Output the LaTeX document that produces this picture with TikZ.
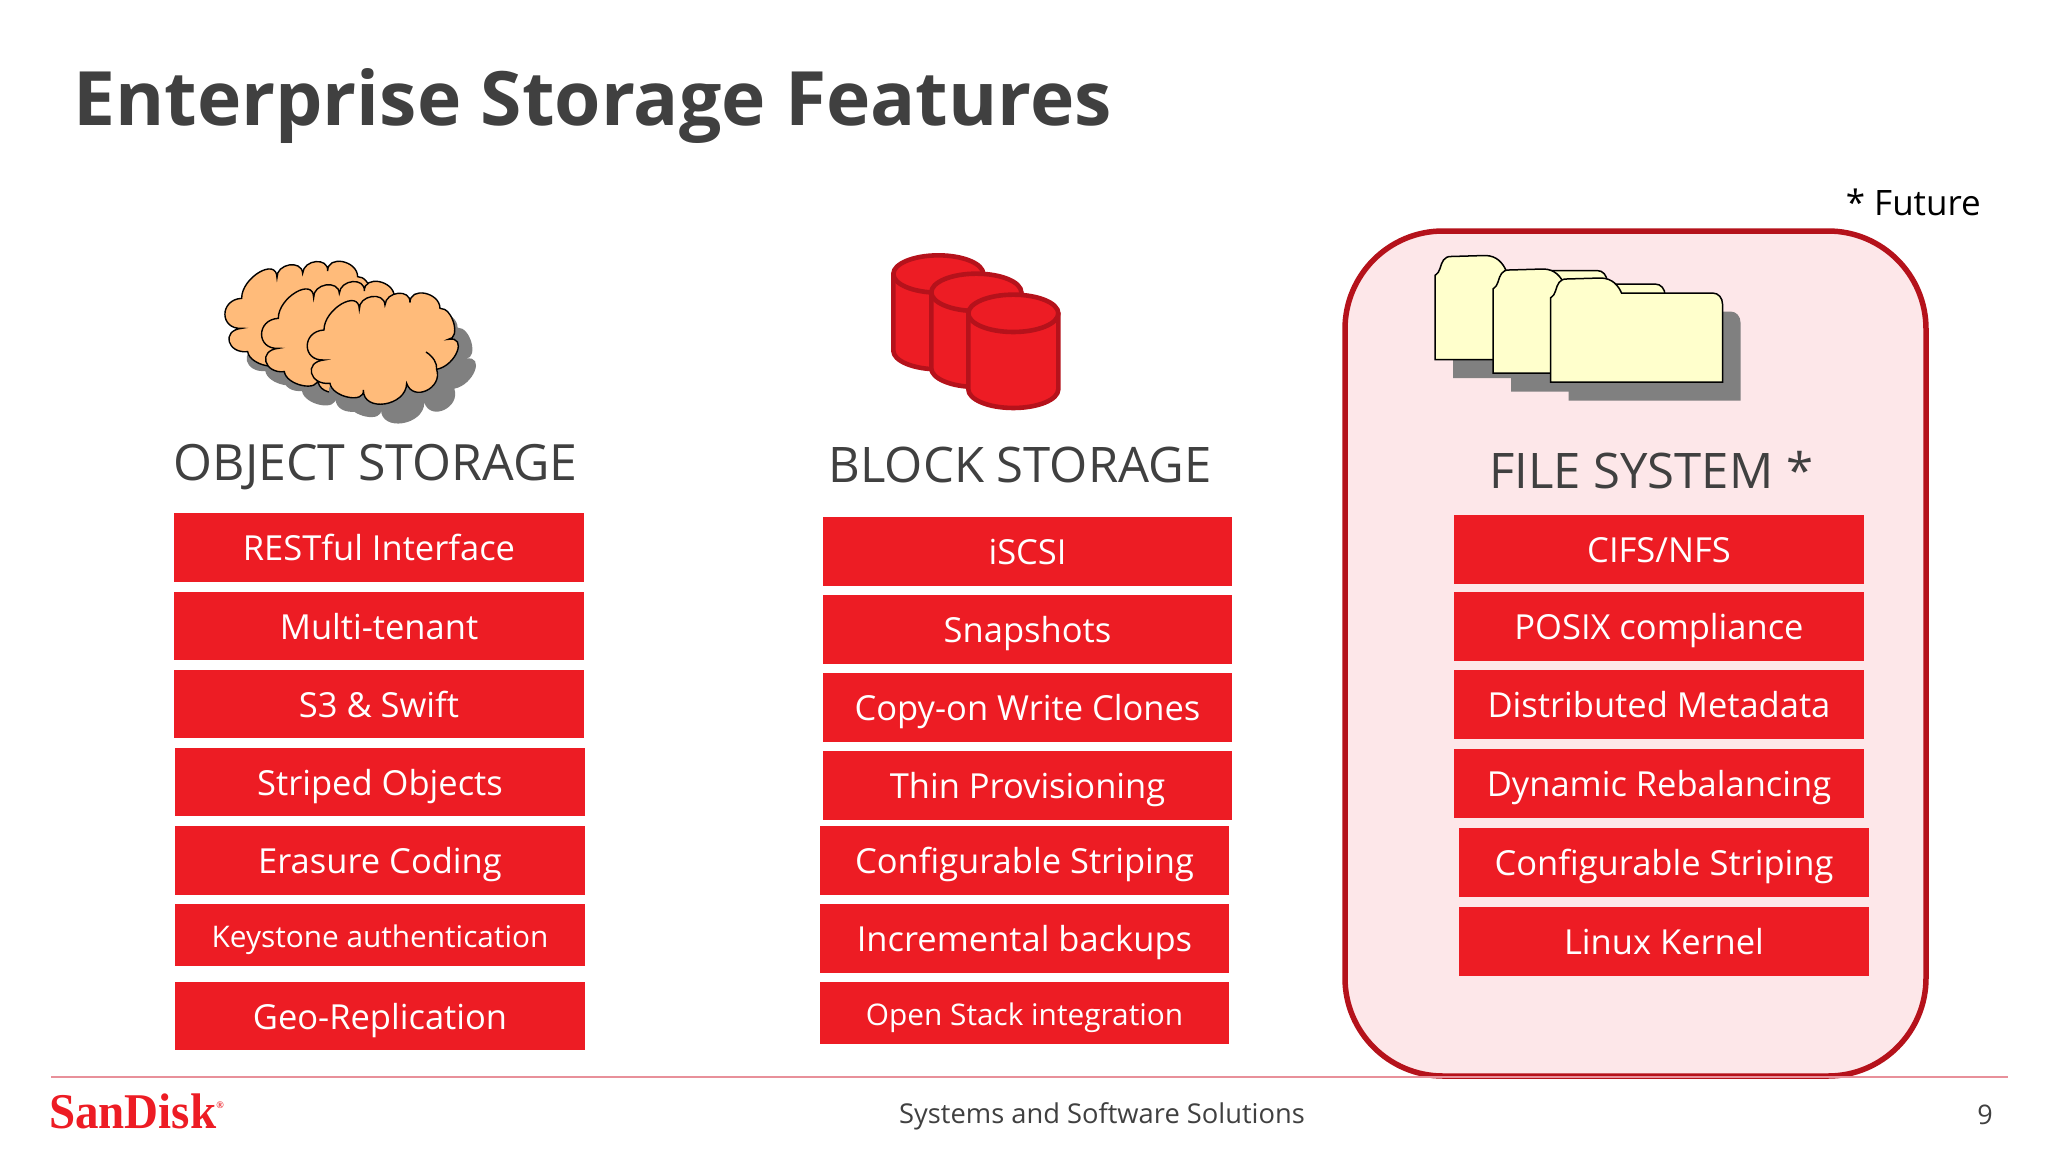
\documentclass[tikz,border=0pt]{standalone}
\usepackage{fontspec}
\setmainfont{Open Sans}
\newfontfamily\logofont{Liberation Serif}
\usetikzlibrary{calc}
\definecolor{sdred}{HTML}{ED1C24}
\definecolor{sddark}{HTML}{B5121B}
\definecolor{sdtitle}{HTML}{404040}
\definecolor{sdpink}{HTML}{FDE7E9}
\definecolor{sdorange}{HTML}{FFBB7A}
\definecolor{sdyellow}{HTML}{FFFFCC}
\definecolor{sdshadow}{HTML}{808080}
\definecolor{sdrule}{HTML}{E8909A}
\newcommand\puff[3]{.. controls ($(#1)+1.333*(#2)-0.667*(#1)-0.667*(#3)$) and ($(#3)+1.333*(#2)-0.667*(#1)-0.667*(#3)$) .. (#3)}
\newcommand\cloudshape{(372,270) \puff{372,270}{425,192}{478,208} \puff{478,208}{515,170}{555,195} \puff{555,195}{595,160}{630,188} \puff{630,188}{675,160}{720,205} \puff{720,205}{762,250}{745,298} \puff{745,298}{772,335}{710,388} \puff{710,388}{680,452}{620,430} \puff{620,430}{555,492}{490,450} \puff{490,450}{445,472}{390,430} \puff{390,430}{335,400}{372,360} \puff{372,360}{322,318}{372,270} -- cycle}
\newcommand\onecloud[2]{%
\fill[sdshadow,shift={(#1+53,#2+58)}] \cloudshape;
\draw[black,line width=1.4pt,fill=sdorange,shift={(#1,#2)}] \cloudshape;
\draw[black,line width=1.4pt,shift={(#1,#2)}] (678,336) .. controls (700,350) and (712,370) .. (710,388);
}
\newcommand\onecyl[3]{%
\draw[line width=4.6pt,draw=sddark,fill=sdred,line join=round] (#1-135,#2) -- (#1-135,#3) arc[x radius=135,y radius=56,start angle=180,end angle=0] -- (#1+135,#2) arc[x radius=135,y radius=56,start angle=0,end angle=-180] -- cycle;
\draw[line width=4.6pt,draw=sddark] (#1-135,#2) arc[x radius=135,y radius=56,start angle=180,end angle=0];
}
\newcommand\folderpath{(0,0) -- (0,-84) .. controls (3,-86) and (4,-88) .. (5,-91) .. controls (7,-98) and (9,-103) .. (16,-103) -- (50,-104) .. controls (62,-104) and (68,-96) .. (71,-89) -- (162,-89) .. controls (168,-89) and (172,-84) .. (172,-78) -- (172,0) -- cycle}
\newcommand\onefolder[2]{%
\fill[sdshadow,shift={(#1+18,#2+18.5)}] \folderpath;
\draw[black,line width=1.5pt,fill=sdyellow,shift={(#1,#2)}] \folderpath;
}
\tikzset{
 rowbox/.style={fill=sdred,text=white,inner sep=0pt,align=center,text height=31pt,text depth=5pt,font=\fontsize{34.5}{40}\selectfont},
 rowsmall/.style={rowbox,text height=28pt,text depth=4pt,font=\fontsize{29.8}{36}\selectfont},
 heading/.style={text=sdtitle,inner sep=0pt,font=\fontsize{49}{56}\selectfont}
}
\begin{document}
\begin{tikzpicture}[x=1pt,y=-1pt]
\useasboundingbox (0,0) rectangle (2048,1152);
\fill[white] (0,0) rectangle (2048,1152);
\node[anchor=west,inner sep=0pt,text=sdtitle] (title) at (73,106) {\fontsize{75}{90}\selectfont\bfseries Enterprise Storage Features};
\node[anchor=east,inner sep=0pt,text=black] (future) at (1981,202) {\fontsize{35}{40}\selectfont * Future};
% file system panel
\draw[line width=5.5pt,draw=sddark,fill=sdpink,rounded corners=98pt] (1345,231) rectangle (1926,1076);
% clouds
\begin{scope}[shift={(200,240)},x=0.3333pt,y=-0.3333pt]
\onecloud{-247}{-95}
\onecloud{-137}{-35}
\onecloud{0}{0}
\end{scope}
% cylinders
\begin{scope}[shift={(860,240)},x=0.3333pt,y=-0.3333pt,line cap=round]
\onecyl{235}{102}{332}
\onecyl{349}{157}{385}
\onecyl{460}{220}{448}
\end{scope}
% folders
\begin{scope}[shift={(1435,359.5)}]
\onefolder{0}{0}
\onefolder{58}{13.5}
\onefolder{115.5}{22.5}
\end{scope}
% headings
\node[heading,font=\fontsize{50}{56}\selectfont] (hobj) at (375.5,467) {OBJECT STORAGE};
\node[heading] (hblk) at (1020,465) {BLOCK STORAGE};
\node[heading,anchor=west] (hfs) at (1489,470) {FILE SYSTEM *};
% column one
\node[rowbox,minimum width=410pt,minimum height=69pt] (a1) at (379,547.5) {RESTful Interface};
\node[rowbox,minimum width=410pt,minimum height=68pt] (a2) at (379,626) {Multi-tenant};
\node[rowbox,minimum width=410pt,minimum height=68pt] (a3) at (379,704) {S3 \& Swift};
\node[rowbox,minimum width=410pt,minimum height=68pt] (a4) at (380,782) {Striped Objects};
\node[rowbox,minimum width=410pt,minimum height=69pt] (a5) at (380,860.5) {Erasure Coding};
\node[rowsmall,minimum width=410pt,minimum height=62pt] (a6) at (380,935) {Keystone authentication};
\node[rowbox,minimum width=410pt,minimum height=68pt] (a7) at (380,1016) {Geo-Replication};
% column two
\node[rowbox,minimum width=409pt,minimum height=69pt] (b1) at (1027.5,551.5) {iSCSI};
\node[rowbox,minimum width=409pt,minimum height=69pt] (b2) at (1027.5,629.5) {Snapshots};
\node[rowbox,minimum width=409pt,minimum height=69pt] (b3) at (1027.5,707.5) {Copy-on Write Clones};
\node[rowbox,minimum width=409pt,minimum height=69pt] (b4) at (1027.5,785.5) {Thin Provisioning};
\node[rowbox,minimum width=409pt,minimum height=69pt] (b5) at (1024.5,860.5) {Configurable Striping};
\node[rowbox,minimum width=409pt,minimum height=69pt] (b6) at (1024.5,938.5) {Incremental backups};
\node[rowsmall,minimum width=409pt,minimum height=62pt] (b7) at (1024.5,1013) {Open Stack integration};
% column three
\node[rowbox,minimum width=410pt,minimum height=69pt] (c1) at (1659,549.5) {CIFS/NFS};
\node[rowbox,minimum width=410pt,minimum height=69pt] (c2) at (1659,626.5) {POSIX compliance};
\node[rowbox,minimum width=410pt,minimum height=69pt] (c3) at (1659,704.5) {Distributed Metadata};
\node[rowbox,minimum width=410pt,minimum height=69pt] (c4) at (1659,783) {Dynamic Rebalancing};
\node[rowbox,minimum width=410pt,minimum height=69pt] (c5) at (1664,862.5) {Configurable Striping};
\node[rowbox,minimum width=410pt,minimum height=69pt] (c6) at (1664,941) {Linux Kernel};
% footer
\coordinate (ruleL) at (51,1077);
\coordinate (ruleR) at (2008,1077);
\draw[sdrule,line width=1.2pt] (ruleL) -- (ruleR);
\node[anchor=west,inner sep=0pt,text=sdred] (logo) at (49,1111) {\logofont\bfseries\fontsize{50}{56}\selectfont\scalebox{0.94}[1]{SanDisk}\raisebox{20pt}{\fontsize{10}{12}\selectfont ®}};
\node[inner sep=0pt,text=sdtitle] (foot) at (1102,1116) {\fontsize{27.3}{32}\selectfont Systems and Software Solutions};
\node[inner sep=0pt,text=sdtitle] (page) at (1985,1115) {\fontsize{27}{32}\selectfont 9};
\end{tikzpicture}
\end{document}
